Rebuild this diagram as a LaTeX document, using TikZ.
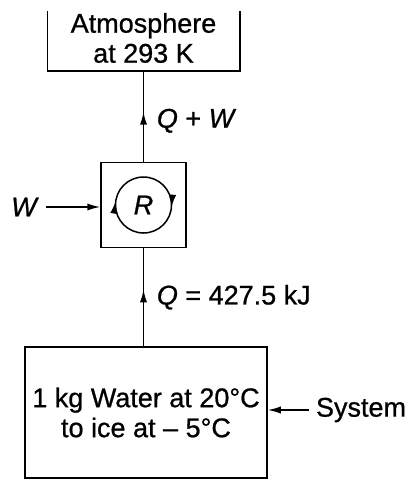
\documentclass[tikz,border=0pt]{standalone}
\usepackage{fontspec}
\setmainfont{Liberation Sans}[UprightFeatures={FakeBold=0.8}, ItalicFeatures={FakeBold=0.8}]
\usetikzlibrary{arrows.meta}
\usetikzlibrary{decorations.markings, math}

\tikzset{
 box/.style={draw, line width=0.75pt, inner sep=0pt, align=center},
 midarrow/.style={decoration={markings, mark=at position #1 with {\arrow{>}}}, postaction={decorate}},
 >={Latex[length=6.5pt,width=3.6pt]},
}

\begin{document}
\begin{tikzpicture}[x=0.5pt, y=-0.5pt, line width=0.75pt, font=\fontsize{13.5}{15}\selectfont]
\useasboundingbox (0,0) rectangle (410,482);
\tikzmath{
\cx=143.5;
\r=28;
}

 %blocks:
 \node[minimum width=95.5pt, minimum height=29pt, inner sep=0pt] (atm) at (\cx,41) {};
 \node[align=center, yshift=1.5pt] (atmtxt) at (atm.center) {Atmosphere\\at 293 K};
 \draw (atm.north west) -- (atm.south west) -- (atm.south east) -- (atm.north east);

 \node[box, minimum size=42.5pt] (eng) at (\cx,205) {\textit{R}};
 \node[box, minimum width=121pt, minimum height=65.5pt] (sys) at (146,412.5)
   {1 kg Water at 20°C\\to ice at – 5°C};

 %cycle:
 \draw[decoration={markings,
        mark=at position 0.015 with {\arrow{>}},
        mark=at position 0.525 with {\arrow{>}}},
       postaction={decorate}] (eng.center) circle[radius=\r];

 %heat flows:
 \draw[midarrow=0.55] (eng.north) -- (atm.south)
   node[pos=0.45, right, xshift=3pt] (qw) {\textit{Q} + \textit{W}};
 \draw[midarrow=0.58] (eng.south |- sys.north) -- (eng.south)
   node[pos=0.5, right, xshift=3pt] (q) {\textit{Q} = 427.5 kJ};

 %work and label:
 \node (w) at (25,207) {\textit{W}};
 \draw[->] (w.east) -- (w.east -| eng.west);
 \node (syslab) at (361,410) {System};
 \draw[->] (syslab.west) -- (syslab.west -| sys.east);
\end{tikzpicture}
\end{document}
